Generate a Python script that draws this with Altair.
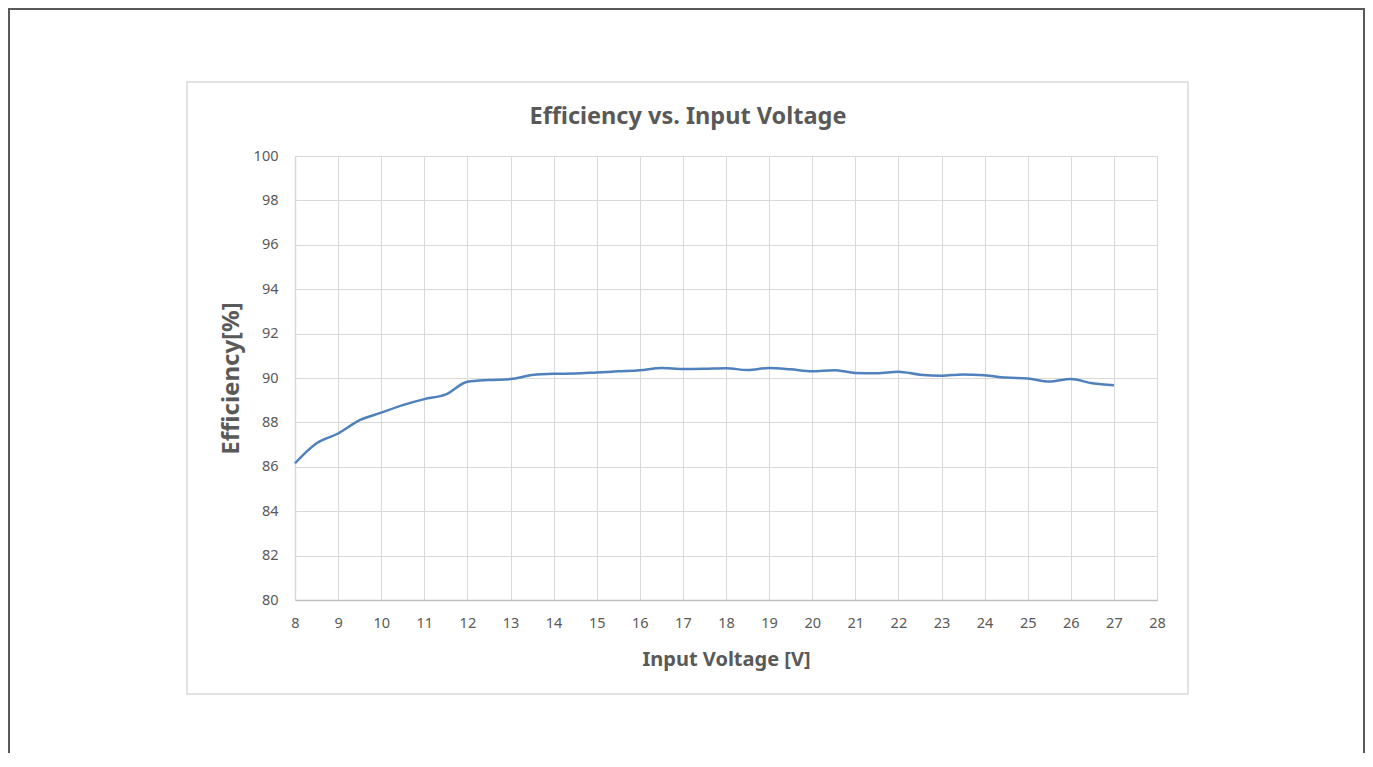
import altair as alt
import pandas as pd

# Data
voltage = [8, 8.5, 9, 9.5, 10, 10.5, 11, 11.5, 12, 12.5, 13, 13.5, 14, 14.5, 15, 15.5,
           16, 16.5, 17, 17.5, 18, 18.5, 19, 19.5, 20, 20.5, 21, 21.5, 22, 22.5, 23,
           23.5, 24, 24.5, 25, 25.5, 26, 26.5, 27]
efficiency = [86.16, 87.06, 87.5, 88.1, 88.44, 88.78, 89.05, 89.26, 89.83, 89.91, 89.95,
              90.13, 90.19, 90.2, 90.25, 90.3, 90.35, 90.45, 90.41, 90.42, 90.44, 90.36,
              90.45, 90.39, 90.3, 90.35, 90.23, 90.21, 90.28, 90.15, 90.1, 90.16, 90.12,
              90.02, 89.98, 89.84, 89.95, 89.76, 89.67]
x_ticks = list(range(8, 29))
y_ticks = list(range(80, 101, 2))

df = pd.DataFrame({"Voltage": voltage, "Efficiency": efficiency})

FONT = "Noto Sans"
TEXT = "#595959"
GRID = "#d9d9d9"

W, H = 862, 444

frame_data = alt.Data(values=[{"k": 1}])

outer = alt.Chart(frame_data).mark_rect(
    fill="transparent", stroke="#595959", strokeWidth=2
).encode(
    x=alt.value(-286), x2=alt.value(1069), y=alt.value(-147), y2=alt.value(700)
)

inner = alt.Chart(frame_data).mark_rect(
    fill="transparent", stroke=GRID, strokeWidth=1.5
).encode(
    x=alt.value(-108), x2=alt.value(893), y=alt.value(-74), y2=alt.value(538)
)

line = alt.Chart(df).mark_line(
    color="#4f81bd", strokeWidth=2.5, interpolate="monotone"
).encode(
    x=alt.X("Voltage:Q",
            scale=alt.Scale(domain=[8, 28], nice=False, zero=False),
            axis=alt.Axis(values=x_ticks, title="Input Voltage [V]",
                          grid=True, gridColor=GRID, ticks=False,
                          domainColor="#bfbfbf", domainWidth=1.5,
                          labelFont=FONT, labelFontSize=14.5, labelColor=TEXT,
                          labelPadding=16, labelFlush=False,
                          titleFont=FONT, titleFontSize=20, titleFontWeight="bold",
                          titleColor=TEXT, titleBaseline="alphabetic",
                          titleY=65, titleX=W / 2)),
    y=alt.Y("Efficiency:Q",
            scale=alt.Scale(domain=[80, 100], nice=False, zero=False),
            axis=alt.Axis(values=y_ticks, title="Efficiency[%]",
                          grid=True, gridColor=GRID, ticks=False,
                          domainColor=GRID, domainWidth=1.5,
                          labelFont=FONT, labelFontSize=14.5, labelColor=TEXT,
                          labelPadding=17, labelFlush=False,
                          titleFont=FONT, titleFontSize=24, titleFontWeight="bold",
                          titleColor=TEXT, titleBaseline="middle",
                          titleX=-64, titleY=H / 2, titleAngle=-90)),
)

chart = alt.layer(outer, inner, line).properties(
    width=W, height=H,
    autosize="none",
    padding={"left": 287, "top": 148, "right": 208, "bottom": 153},
    title=alt.TitleParams("Efficiency vs. Input Voltage", font=FONT, fontSize=23.5,
                          fontWeight="bold", color=TEXT, anchor="middle",
                          dx=-38, offset=0, dy=120),
).configure_view(stroke=None).configure(background="white")

chart.save("out.html", embed_options={"renderer": "svg", "actions": False})
